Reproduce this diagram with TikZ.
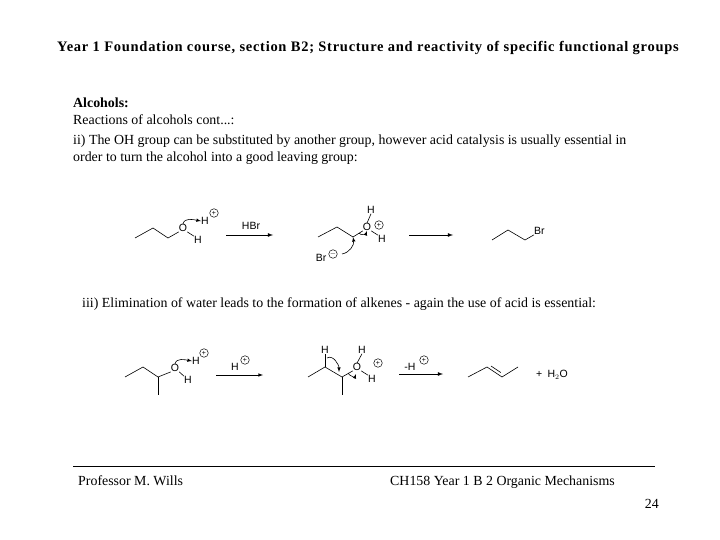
\documentclass[tikz,border=0pt]{standalone}
\usepackage{fontspec}
\usetikzlibrary{calc}
\setmainfont{Liberation Serif}
\newfontfamily\chem{Liberation Sans}
\newfontfamily\titlefont[LetterSpace=5]{Liberation Serif}
\begin{document}
\begin{tikzpicture}[x=1pt,y=-1pt,
  txt/.style={anchor=base west,inner sep=0,font=\fontsize{13.9}{15}\selectfont},
  lbl/.style={inner sep=0,font=\chem\fontsize{10.5}{11}\selectfont},
  bond/.style={line width=0.6pt},
  rarrow/.style={line width=0.8pt,-latex},
  curly/.style={line width=0.6pt,-latex},
  chg/.style={circle,draw,line width=0.5pt,inner sep=0,minimum size=8.5pt,font=\chem\fontsize{7}{7}\selectfont}]
\useasboundingbox (0,0) rectangle (720,540);
\node[inner sep=0,font=\titlefont\bfseries\fontsize{14.5}{16}\selectfont] (title) at (368,48) {Year 1 Foundation course, section B2; Structure and reactivity of specific functional groups};
\node[txt,font=\bfseries\fontsize{13.9}{15}\selectfont] (h1) at (73,108) {Alcohols:};
\node[txt] (h2) at (73,125) {Reactions of alcohols cont...:};
\node[txt] (p1) at (73,145) {ii) The OH group can be substituted by another group, however acid catalysis is usually essential in};
\node[txt] (p2) at (73,162) {order to turn the alcohol into a good leaving group:};
\node[txt] (p3) at (82,307) {iii) Elimination of water leads to the formation of alkenes - again the use of acid is essential:};
% reaction 1
\coordinate (a1) at (135,238); \coordinate (a2) at (153,228); \coordinate (a3) at (168,238);
\node[lbl] (o1) at (183,228) {O};
\node[lbl] (h1a) at (198,240) {H};
\node[lbl] (hp1) at (205,221) {H}; \node[chg] (c1) at (214,213) {+};
\draw[bond] (a1)--(a2)--(a3)--(o1.south west); \draw[bond] (o1.south east)--(h1a.north west);
\draw[curly] (o1.north) to[out=80,in=170] (hp1.west);
\coordinate (r1s) at (226,235); \coordinate (r1e) at (273,235);
\draw[rarrow] (r1s)--(r1e); \node[lbl] (hbr) at (251,226) {HBr};
\coordinate (b1) at (318,237); \coordinate (b2) at (337,227); \coordinate (b3) at (353,237);
\node[lbl] (o2) at (367,227) {O};
\node[lbl] (h2t) at (371,210) {H}; \node[lbl] (h2r) at (382,239) {H}; \node[chg] (c2) at (379,225) {+};
\draw[bond] (b1)--(b2)--(b3)--(o2.south west); \draw[bond] (o2.north)--(h2t.south); \draw[bond] (o2.south east)--(h2r.north west);
\node[lbl] (br) at (321,258) {Br}; \node[chg] (c3) at (333,254) {$-$};
\draw[curly] (342,254) to[out=10,in=-80] (b3);
\draw[curly] (359,233) to[out=-60,in=-110] (o2.south);
\coordinate (r2s) at (409,235); \coordinate (r2e) at (453,235);
\draw[rarrow] (r2s)--(r2e);
\coordinate (d1) at (492,240); \coordinate (d2) at (508,230); \coordinate (d3) at (525,240);
\node[lbl,anchor=west] (br2) at (534,231) {Br};
\draw[bond] (d1)--(d2)--(d3)--(br2.south west);
% reaction 2
\coordinate (e1) at (125,377); \coordinate (e2) at (143,367); \coordinate (e3) at (158,377); \coordinate (e4) at (158,395);
\node[lbl] (o3) at (175,368) {O}; \node[lbl] (h3) at (188,380) {H};
\node[lbl] (hp3) at (196,361) {H}; \node[chg] (c4) at (204,353) {+};
\draw[bond] (e1)--(e2)--(e3)--(o3.south west); \draw[bond] (e3)--(e4); \draw[bond] (o3.south east)--(h3.north west);
\draw[curly] (o3.north) to[out=80,in=170] (hp3.west);
\coordinate (r3s) at (216,375); \coordinate (r3e) at (263,375);
\draw[rarrow,line width=0.6pt] (r3s)--(r3e);
\node[lbl] (hl) at (235,367) {H}; \node[chg] (c5) at (245,360) {+};
\coordinate (f1) at (308,377); \coordinate (f2) at (325,367); \coordinate (f3) at (342,377); \coordinate (f4) at (342,395);
\node[lbl] (hf) at (325,350) {H};
\node[lbl] (o4) at (357,367) {O}; \node[lbl] (h4t) at (362,350) {H}; \node[lbl] (h4r) at (372,379) {H}; \node[chg] (c6) at (378,363) {+};
\draw[bond] (f1)--(f2)--(f3)--(o4.south west); \draw[bond] (f3)--(f4); \draw[bond] (f2)--(hf.south);
\draw[bond] (o4.north)--(h4t.south); \draw[bond] (o4.south east)--(h4r.north west);
\draw[curly] (327,358) to[out=30,in=90] (339,372);
\draw[curly] (348,373) to[out=-70,in=-110] (356,374);
\coordinate (r4s) at (399,374); \coordinate (r4e) at (443,374);
\draw[rarrow] (r4s)--(r4e);
\node[lbl] (mh) at (410,367) {-H}; \node[chg] (c7) at (424,360) {+};
\coordinate (g1) at (468,377); \coordinate (g2) at (487,367); \coordinate (g3) at (502,377); \coordinate (g4) at (518,367);
\draw[bond] (g1)--(g2)--(g3)--(g4); \draw[bond] ($(g2)!0.2!(g3)+(1,-3)$)--($(g2)!0.85!(g3)+(1,-3)$);
\node[lbl,anchor=west] (w) at (536,375) {+\enspace H$_2$O};
% footer
\coordinate (l1) at (73,466); \coordinate (l2) at (655,466);
\draw[line width=0.6pt] (l1)--(l2);
\node[txt] (f1t) at (78,485) {Professor M. Wills};
\node[txt] (f2t) at (390,485) {CH158 Year 1 B 2 Organic Mechanisms};
\node[txt,anchor=base east] (pg) at (659,508) {24};
\end{tikzpicture}
\end{document}
